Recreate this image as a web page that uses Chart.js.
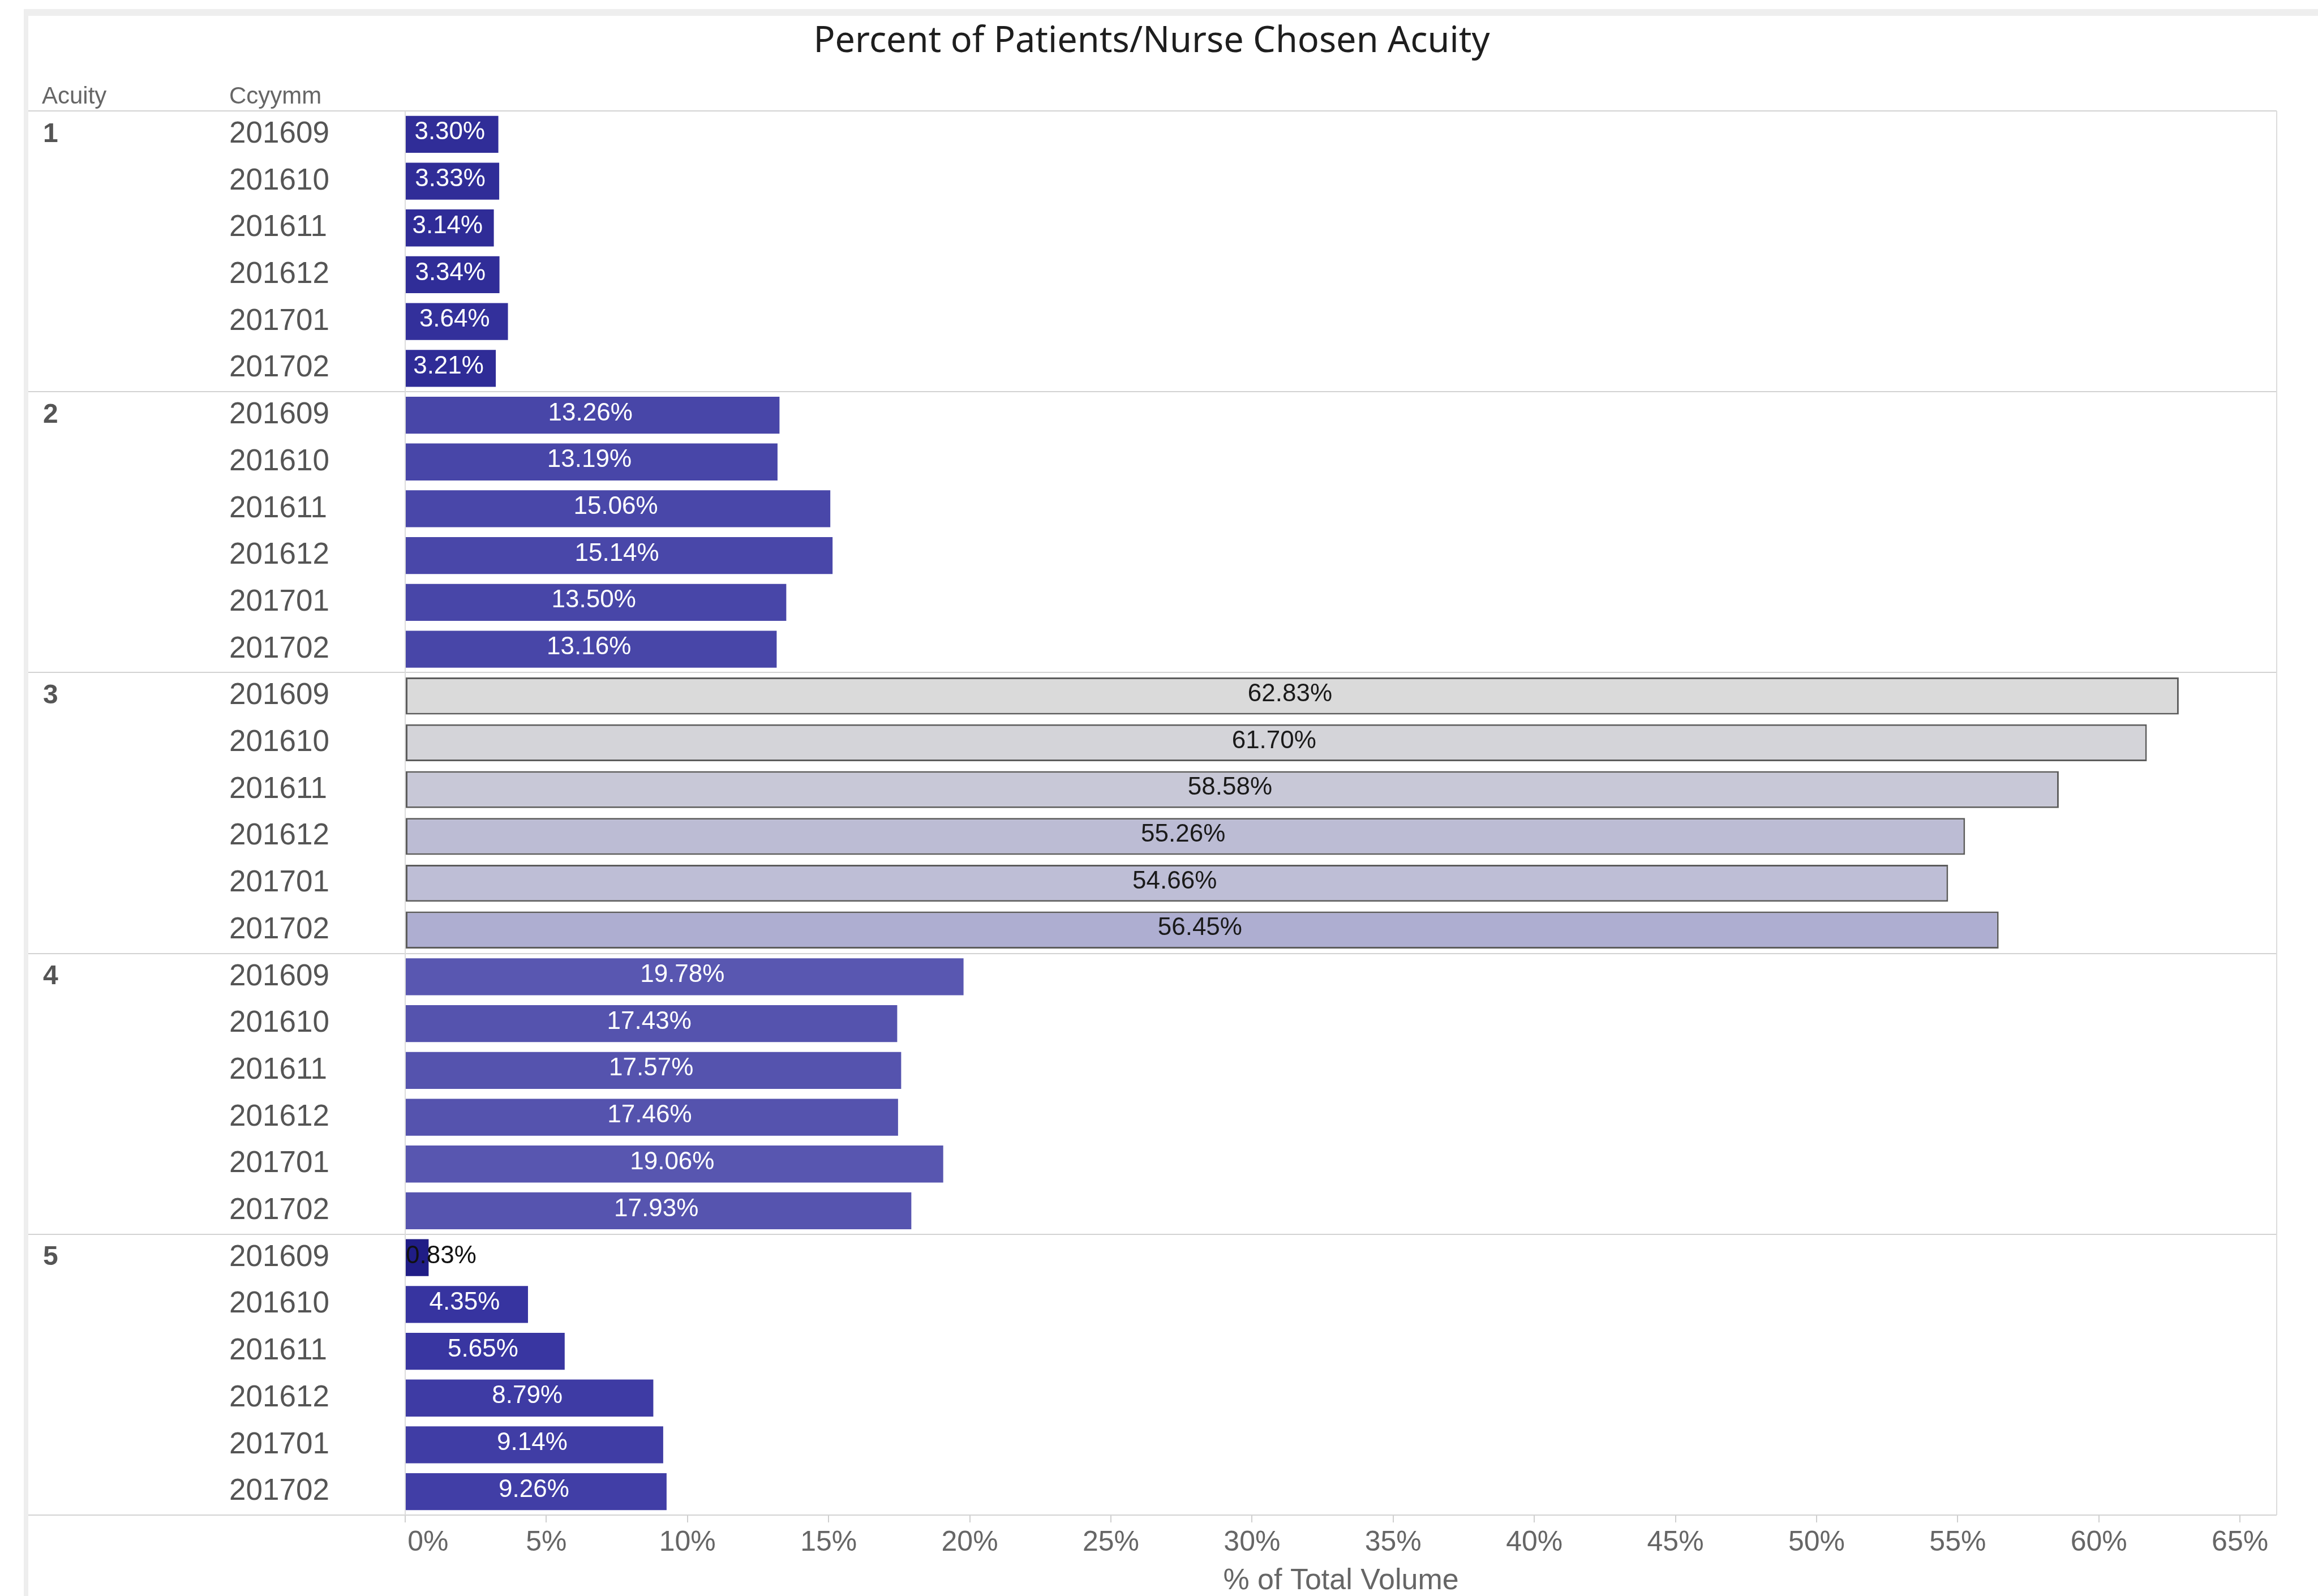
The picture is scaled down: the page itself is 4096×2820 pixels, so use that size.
<!DOCTYPE html>
<html>
<head>
<meta charset="utf-8">
<title>Percent of Patients/Nurse Chosen Acuity</title>
<script src="https://cdn.jsdelivr.net/npm/chart.js@4.4.1/dist/chart.umd.min.js"></script>
<style>
    html, body { margin: 0; padding: 0; background: #fff; }
    #wrap { width: 4096px; height: 2820px; }
</style>
</head>
<body>
<div id="wrap"><canvas id="acuityChart" width="4096" height="2820"></canvas></div>
<script>
// data
const months = ['201609', '201610', '201611', '201612', '201701', '201702'];
const acuityLevels = ['1', '2', '3', '4', '5'];
const acuity1 = [3.30, 3.33, 3.14, 3.34, 3.64, 3.21];
const acuity2 = [13.26, 13.19, 15.06, 15.14, 13.50, 13.16];
const acuity3 = [62.83, 61.70, 58.58, 55.26, 54.66, 56.45];
const acuity4 = [19.78, 17.43, 17.57, 17.46, 19.06, 17.93];
const acuity5 = [0.83, 4.35, 5.65, 8.79, 9.14, 9.26];
const xTicks = [0, 5, 10, 15, 20, 25, 30, 35, 40, 45, 50, 55, 60, 65];

const chartTitle = 'Percent of Patients/Nurse Chosen Acuity';

// colours per acuity group (tableau-ish sequential palette)
const groupColors = [
    ['#302d98', '#302d98', '#2f2c97', '#302d98', '#33309b', '#2f2c97'],
    ['#4846a8', '#4846a8', '#4947a9', '#4947a9', '#4846a8', '#4846a8'],
    ['#dadada', '#d4d4d9', '#c8c8d7', '#bcbcd4', '#bebed6', '#aeaed1'],
    ['#5957b1', '#5553ae', '#5553ae', '#5553ae', '#5856b0', '#5654af'],
    ['#201d86', '#3734a0', '#3936a1', '#3e3ba4', '#403da5', '#413ea6']
];

const groups = [acuity1, acuity2, acuity3, acuity4, acuity5];
const labels = [];
const values = [];
const colors = [];
const borders = [];
const borderWidths = [];
groups.forEach(function (g, gi) {
    g.forEach(function (v, mi) {
        labels.push(acuityLevels[gi] + ' ' + months[mi]);
        values.push(v);
        colors.push(groupColors[gi][mi]);
        borders.push(gi === 2 ? '#5c5c5c' : groupColors[gi][mi]);
        borderWidths.push(gi === 2 ? 3 : 0);
    });
});

const FONT = '"Liberation Sans", Arial, sans-serif';

// draws the tableau-style table parts: title, headers, row labels, separators, value labels
const tablePlugin = {
    id: 'tableLayout',
    beforeDraw(chart) {
        const {ctx} = chart;
        ctx.save();
        ctx.fillStyle = '#ffffff';
        ctx.fillRect(0, 0, chart.width, chart.height);
        // panel shadow edges
        ctx.fillStyle = '#eeeeee';
        ctx.fillRect(42, 16, chart.width - 42, 12);
        ctx.fillRect(42, 16, 8, chart.height - 16);

        ctx.fillStyle = '#1e1e1e';
        ctx.font = '63px "Noto Sans", sans-serif';
        ctx.textAlign = 'center';
        ctx.textBaseline = 'middle';
        ctx.fillText(chartTitle, 2035, 74);

        ctx.fillStyle = '#666';
        ctx.font = '42px ' + FONT;
        ctx.textAlign = 'left';
        ctx.fillText('Acuity', 74, 171);
        ctx.fillText('Ccyymm', 405, 171);
        ctx.restore();
    },
    beforeDatasetsDraw(chart) {
        const {ctx, chartArea, scales: {y}} = chart;
        ctx.save();
        ctx.strokeStyle = '#d2d2d2';
        ctx.lineWidth = 2;
        const hLine = function (yy) {
            ctx.beginPath();
            ctx.moveTo(50, yy);
            ctx.lineTo(chartArea.right, yy);
            ctx.stroke();
        };
        hLine(chartArea.top);
        hLine(chartArea.bottom);
        for (let g = 1; g < acuityLevels.length; g++) {
            const i = g * months.length;
            hLine(Math.round((y.getPixelForValue(i - 1) + y.getPixelForValue(i)) / 2));
        }
        ctx.strokeStyle = '#dcdcdc';
        [chartArea.left, chartArea.right].forEach(function (xx) {
            ctx.beginPath();
            ctx.moveTo(xx, chartArea.top);
            ctx.lineTo(xx, chartArea.bottom);
            ctx.stroke();
        });

        // row + group labels
        ctx.textBaseline = 'middle';
        ctx.textAlign = 'left';
        labels.forEach(function (lab, i) {
            const yy = y.getPixelForValue(i);
            const mi = i % months.length;
            ctx.fillStyle = '#555';
            ctx.font = '53px ' + FONT;
            ctx.fillText(months[mi], 405, yy);
            if (mi === 0) {
                ctx.font = 'bold 48px ' + FONT;
                ctx.fillText(acuityLevels[Math.floor(i / months.length)], 76, yy);
            }
        });
        ctx.restore();
    },
    afterDatasetsDraw(chart) {
        const {ctx} = chart;
        const meta = chart.getDatasetMeta(0);
        ctx.save();
        ctx.font = '44px ' + FONT;
        ctx.textBaseline = 'middle';
        meta.data.forEach(function (bar, i) {
            const txt = values[i].toFixed(2) + '%';
            const w = ctx.measureText(txt).width;
            const left = Math.min(bar.base, bar.x);
            const width = Math.abs(bar.x - bar.base);
            const inGroup3 = Math.floor(i / months.length) === 2;
            if (w + 6 > width) {
                ctx.textAlign = 'left';
                ctx.fillStyle = '#111';
                ctx.fillText(txt, left, bar.y - 2);
            } else {
                ctx.textAlign = 'center';
                ctx.fillStyle = inGroup3 ? '#1a1a1a' : '#ffffff';
                ctx.fillText(txt, left + width / 2 - 4, bar.y - 3);
            }
        });
        ctx.restore();
    }
};

const ctx = document.getElementById('acuityChart').getContext('2d');
const acuityChart = new Chart(ctx, {
    type: 'bar',
    data: {
        labels: labels,
        datasets: [
            {
                data: values,
                backgroundColor: colors,
                borderColor: borders,
                borderWidth: borderWidths,
                borderSkipped: false,
                barPercentage: 0.79,
                categoryPercentage: 1.0,
            }
        ]
    },
    options: {
        indexAxis: 'y',
        responsive: false,
        devicePixelRatio: 1,
        animation: false,
        layout: {
            padding: {left: 716, right: 73, top: 196, bottom: 0}
        },
        plugins: {
            legend: {display: false},
            title: {display: false},
            tooltip: {enabled: false}
        },
        scales: {
            x: {
                type: 'linear',
                min: 0,
                max: 66.3,
                afterBuildTicks: function (axis) {
                    axis.ticks = xTicks.map(function (v) { return {value: v}; });
                },
                ticks: {
                    // first label sits right of its tick, like the original
                    callback: function (v) { return (v === 0 ? '\u2007\u2007\u2002' : '') + v + '%'; },
                    font: {family: FONT, size: 50, lineHeight: 1.0},
                    color: '#666',
                    padding: 11,
                    maxRotation: 0,
                    autoSkip: false
                },
                grid: {
                    drawOnChartArea: false,
                    drawTicks: true,
                    tickLength: 13,
                    color: '#cfcfcf',
                    lineWidth: 2
                },
                border: {display: false},
                title: {
                    display: true,
                    text: '% of Total Volume',
                    font: {family: FONT, size: 52, lineHeight: 1.0},
                    color: '#666',
                    padding: {top: 6, bottom: 0}
                }
            },
            y: {
                type: 'category',
                display: false
            }
        }
    },
    plugins: [tablePlugin]
});
</script>
</body>
</html>
